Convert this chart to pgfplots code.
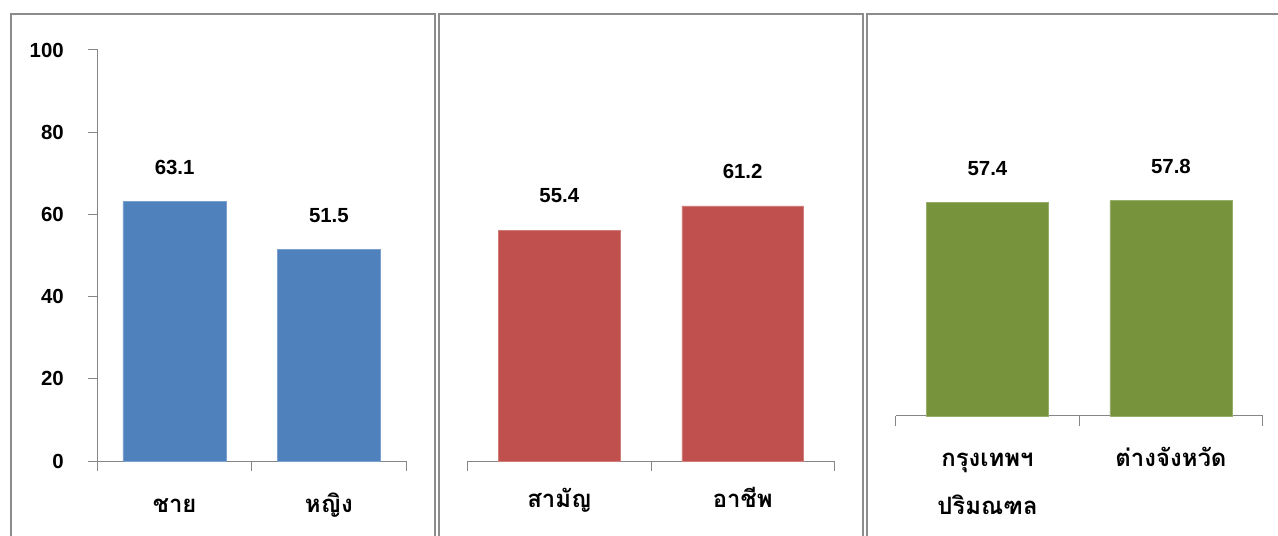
\documentclass[border=0pt]{standalone}
\usepackage{fontspec}
\usepackage{pgfplots}
\pgfplotsset{compat=1.18}
\setmainfont{Liberation Sans}
\newfontfamily\thaifont[Script=Thai]{Loma}
\definecolor{cblue}{RGB}{79,129,189}
\definecolor{cred}{RGB}{192,80,77}
\definecolor{cgreen}{RGB}{119,147,60}
\definecolor{axgray}{RGB}{134,134,134}
\definecolor{frgray}{RGB}{140,140,140}
\newcommand{\numfont}{\bfseries\fontsize{20.5}{24}\selectfont}
\newcommand{\thfont}{\thaifont\bfseries\fontsize{24}{45}\selectfont}
\pgfplotsset{
  panel/.style={
    scale only axis, anchor=south west,
    ymin=0, xmin=-0.5, xmax=1.5,
    axis x line*=bottom,
    x axis line style={axgray, line width=1bp},
    xtick={0,1},
    major x tick style={draw=none},
    minor xtick={-0.5,0.5,1.5},
    minor x tick style={axgray, line width=1bp},
    tick align=outside,
    minor tick length=10bp,
    xticklabel style={font=\thfont, anchor=base, align=center, inner sep=0pt, yshift=-42bp},
    ybar,
    nodes near coords,
    every node near coord/.append style={font=\numfont, anchor=center, yshift=34bp, inner sep=0pt,
      /pgf/number format/.cd, fixed, fixed zerofill, precision=1, assume math mode=true},
    clip=false,
  }
}
\begin{document}
\begin{tikzpicture}
\useasboundingbox (0bp,0bp) rectangle (1278bp,536bp);
% panel frames
\draw[frgray, line width=2bp] (10.5bp,-20bp) -- (10.5bp,521.7bp) -- (435.3bp,521.7bp) -- (435.3bp,-20bp);
\draw[frgray, line width=2bp] (438.7bp,-20bp) -- (438.7bp,521.7bp) -- (863.3bp,521.7bp) -- (863.3bp,-20bp);
\draw[frgray, line width=2bp] (866.7bp,-20bp) -- (866.7bp,521.7bp) -- (1300bp,521.7bp);

% panel 1
\begin{axis}[panel, at={(97.5bp,75bp)}, width=308.5bp, height=411bp,
  ymax=100, bar width=103.4bp,
  axis y line*=left,
  y axis line style={axgray, line width=1bp},
  ytick={0,20,40,60,80,100},
  major y tick style={axgray, line width=1bp},
  major tick length=9.5bp,
  yticklabel style={font=\numfont, anchor=east, inner sep=0pt, xshift=-24bp},
  yticklabel style={/pgf/number format/assume math mode=true},
  xticklabels={ชาย,หญิง}]
\addplot[fill=cblue, draw=cblue!75!white, line width=0.6bp] coordinates {(0,63.1) (1,51.5)};
\end{axis}

% panel 2
\begin{axis}[panel, at={(467.7bp,75bp)}, width=366.6bp, height=411bp,
  ymax=98.6, bar width=121.7bp,
  axis y line=none,
  xticklabels={สามัญ,อาชีพ}]
\addplot[fill=cred, draw=cred!75!white, line width=0.6bp] coordinates {(0,55.4) (1,61.2)};
\end{axis}

% panel 3
\begin{axis}[panel, at={(895.7bp,120bp)}, width=367bp, height=366bp,
  ymax=98.3, bar width=122bp,
  axis y line=none,
  xticklabel style={yshift=-52bp},
  xticklabels={กรุงเทพฯ\\[3bp]ปริมณฑล,ต่างจังหวัด\\[3bp]\mbox{}}]
\addplot[fill=cgreen, draw=cgreen!75!white, line width=0.6bp] coordinates {(0,57.4) (1,57.8)};
\end{axis}
\end{tikzpicture}
\end{document}
